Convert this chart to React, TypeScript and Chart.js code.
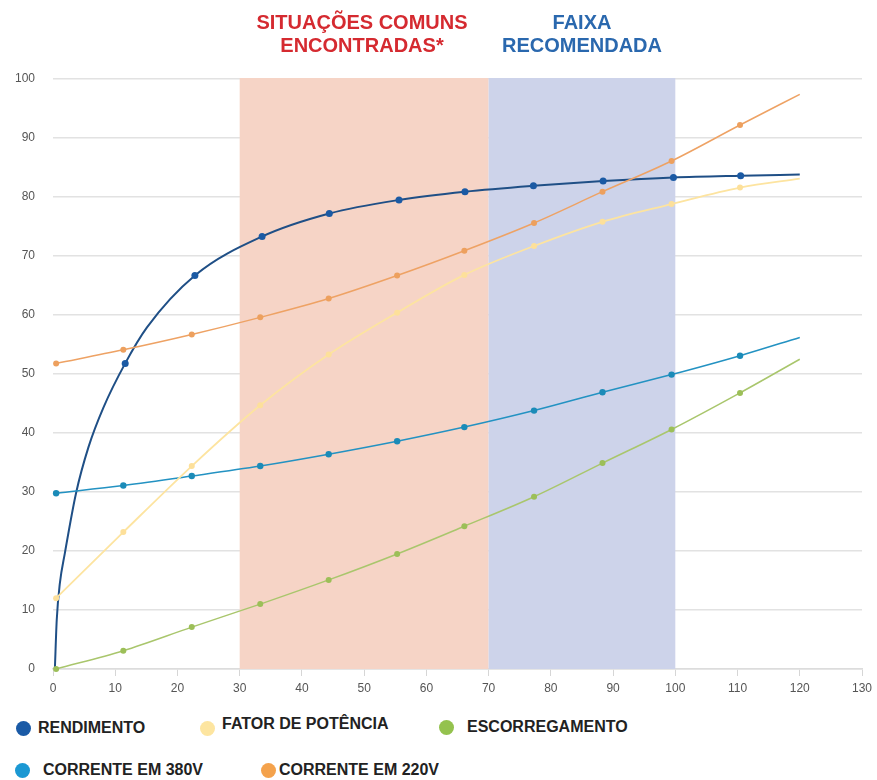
import React, { useEffect, useRef } from 'react';
import { Chart, registerables } from 'chart.js';

Chart.register(...registerables);

// Load (%) positions of the plotted points
const cargaPct = [0.5, 11.3, 22.3, 33.3, 44.3, 55.3, 66.1, 77.3, 88.3, 99.4, 110.4, 120];
const fatorPotencia = [12.0, 23.2, 34.4, 44.7, 53.3, 60.4, 66.8, 71.7, 75.8, 78.8, 81.6, 83.1];
const escorregamento = [0, 3.1, 7.1, 11.0, 15.1, 19.5, 24.2, 29.2, 34.9, 40.6, 46.8, 52.5];
const corrente380 = [29.8, 31.1, 32.7, 34.4, 36.4, 38.6, 41.0, 43.8, 46.9, 49.9, 53.1, 56.2];
const corrente220 = [51.8, 54.1, 56.7, 59.6, 62.8, 66.7, 70.9, 75.6, 80.9, 86.1, 92.2, 97.4];

// Efficiency curve (steep start)
const rendimentoX = [0.3, 0.6, 1.1, 1.9, 3.7, 5.7, 8.1, 11.6, 15.1, 22.8, 33.6, 44.4, 55.6, 66.2, 77.2, 88.4, 99.7, 110.5, 120];
const rendimentoY = [0, 8.3, 14.5, 19.6, 29.8, 37.6, 44.3, 51.8, 57.9, 66.7, 73.3, 77.2, 79.5, 80.9, 81.9, 82.7, 83.3, 83.6, 83.8];
const rendimentoMarkerX = [11.6, 22.8, 33.6, 44.4, 55.6, 66.2, 77.2, 88.4, 99.7, 110.5];

const bandComuns = [30, 70];
const bandRecomendada = [70, 100];

const legendRow1 = ['RENDIMENTO', 'FATOR DE POTÊNCIA', 'ESCORREGAMENTO'];
const legendRow2 = ['CORRENTE EM 380V', 'CORRENTE EM 220V'];

const FONT = '"Liberation Sans", Arial, Helvetica, sans-serif';

const toXY = (xs: number[], ys: number[]) => xs.map((x, i) => ({ x, y: ys[i] }));

const bandsPlugin = {
  id: 'bands',
  beforeDatasetsDraw(chart: any) {
    const { ctx, scales } = chart;
    const x = scales.x;
    const y = scales.y;
    const top = y.getPixelForValue(100);
    const bottom = y.getPixelForValue(0);
    ctx.save();
    ctx.fillStyle = '#f6d4c6';
    const a0 = x.getPixelForValue(bandComuns[0]);
    const a1 = x.getPixelForValue(bandComuns[1]);
    ctx.fillRect(a0, top - 1, a1 - a0, bottom - top + 1);
    ctx.fillStyle = '#cdd3ea';
    const b0 = x.getPixelForValue(bandRecomendada[0]);
    const b1 = x.getPixelForValue(bandRecomendada[1]);
    ctx.fillRect(b0, top - 1, b1 - b0, bottom - top + 1);
    ctx.restore();
  },
};

function lastless(n: number, r: number) {
  return (c: any) => (c.dataIndex === n - 1 ? 0 : r);
}

export default function App() {
  const ref = useRef<HTMLCanvasElement | null>(null);

  useEffect(() => {
    if (!ref.current) return;
    const chart = new Chart(ref.current, {
      type: 'line',
      data: {
        datasets: [
          {
            label: 'ESCORREGAMENTO',
            data: toXY(cargaPct, escorregamento),
            borderColor: '#a9c66c',
            backgroundColor: '#9cbf58',
            borderWidth: 1.5,
            pointRadius: lastless(cargaPct.length, 3),
            pointBorderWidth: 0,
          },
          {
            label: 'FATOR DE POTÊNCIA',
            data: toXY(cargaPct, fatorPotencia),
            borderColor: '#fde4a0',
            backgroundColor: '#fde09a',
            borderWidth: 1.8,
            pointRadius: lastless(cargaPct.length, 3),
            pointBorderWidth: 0,
          },
          {
            label: 'CORRENTE EM 380V',
            data: toXY(cargaPct, corrente380),
            borderColor: '#2392c2',
            backgroundColor: '#1b8bb8',
            borderWidth: 1.5,
            pointRadius: lastless(cargaPct.length, 3.2),
            pointBorderWidth: 0,
          },
          {
            label: 'CORRENTE EM 220V',
            data: toXY(cargaPct, corrente220),
            borderColor: '#eea264',
            backgroundColor: '#eda05e',
            borderWidth: 1.5,
            pointRadius: lastless(cargaPct.length, 3),
            pointBorderWidth: 0,
          },
          {
            label: 'RENDIMENTO',
            data: toXY(rendimentoX, rendimentoY),
            borderColor: '#1f4f86',
            backgroundColor: '#1b5aa4',
            borderWidth: 2,
            pointRadius: (c: any) =>
              rendimentoMarkerX.includes(rendimentoX[c.dataIndex]) ? 3.5 : 0,
            pointBorderWidth: 0,
          },
        ],
      },
      options: {
        animation: false,
        responsive: false,
        events: [],
        layout: { padding: { left: 0, right: 15, top: 79, bottom: 0 } },
        elements: {
          line: { cubicInterpolationMode: 'monotone', fill: false },
          point: { pointStyle: 'circle', hoverRadius: 0 },
        },
        datasets: { line: { clip: 10 } } as any,
        plugins: {
          legend: { display: false },
          tooltip: { enabled: false },
          title: { display: false },
        },
        scales: {
          x: {
            type: 'linear',
            min: 0,
            max: 130,
            afterFit: (s: any) => {
              s.height = 30;
              s.paddingLeft = 0;
              s.paddingRight = 0;
            },
            ticks: {
              stepSize: 10,
              padding: 5,
              maxRotation: 0,
              autoSkip: false,
              color: '#555',
              font: { family: FONT, size: 12 },
            },
            grid: {
              display: true,
              drawOnChartArea: false,
              drawTicks: true,
              tickLength: 7,
              color: '#d6d6d6',
              lineWidth: 1,
            },
            border: { display: true, color: '#dcdcdc', width: 1.5 },
          },
          y: {
            type: 'linear',
            min: 0,
            max: 100,
            afterFit: (s: any) => {
              s.width = 53;
              s.paddingTop = 0;
              s.paddingBottom = 0;
            },
            ticks: {
              stepSize: 10,
              padding: 18,
              color: '#555',
              font: { family: FONT, size: 12 },
            },
            grid: {
              color: '#e2e2e2',
              lineWidth: 1.5,
              drawTicks: false,
            },
            border: { display: false },
          },
        },
      },
      plugins: [bandsPlugin],
    } as any);
    return () => chart.destroy();
  }, []);

  const legendColors1 = ['#1a5aa6', '#fde5a0', '#94c24e'];
  const legendColors2 = ['#1b98d3', '#f4a24c'];
  // [circle center x, text left, circle center y, text center y] in page coords
  const pos1 = [
    [23, 38, 728, 728],
    [207, 222, 728, 724],
    [446, 467, 727, 727],
  ];
  const pos2 = [
    [22, 43, 770, 770],
    [268, 279, 770, 770],
  ];

  const renderItem = (label: string, color: string, p: number[], key: string) => (
    <React.Fragment key={key}>
      <div
        style={{
          position: 'absolute',
          left: p[0] - 7.5,
          top: p[2] - 7.5,
          width: 15,
          height: 15,
          borderRadius: '50%',
          background: color,
        }}
      />
      <div
        style={{
          position: 'absolute',
          left: p[1],
          top: p[3] - 9,
          height: 18,
          lineHeight: '18px',
          fontFamily: FONT,
          fontWeight: 700,
          fontSize: 16,
          color: '#222',
          whiteSpace: 'nowrap',
        }}
      >
        {label}
      </div>
    </React.Fragment>
  );

  const titleStyle = (cx: number, color: string): React.CSSProperties => ({
    position: 'absolute',
    left: cx - 150,
    top: 11,
    width: 300,
    textAlign: 'center',
    fontFamily: FONT,
    fontWeight: 700,
    fontSize: 20,
    lineHeight: '23px',
    color,
  });

  return (
    <div style={{ position: 'relative', width: 877, height: 780, overflow: 'hidden' }}>
      <style>{'html,body{margin:0;padding:0;overflow:hidden;}'}</style>
      <canvas
        ref={ref}
        width={877}
        height={699}
        style={{ position: 'absolute', left: 0, top: 0, display: 'block' }}
      />
      <div style={titleStyle(362, '#d52a30')}>
        SITUAÇÕES COMUNS
        <br />
        ENCONTRADAS*
      </div>
      <div style={titleStyle(582, '#2a68ae')}>
        FAIXA
        <br />
        RECOMENDADA
      </div>
      {legendRow1.map((l, i) => renderItem(l, legendColors1[i], pos1[i], 'a' + i))}
      {legendRow2.map((l, i) => renderItem(l, legendColors2[i], pos2[i], 'b' + i))}
    </div>
  );
}
